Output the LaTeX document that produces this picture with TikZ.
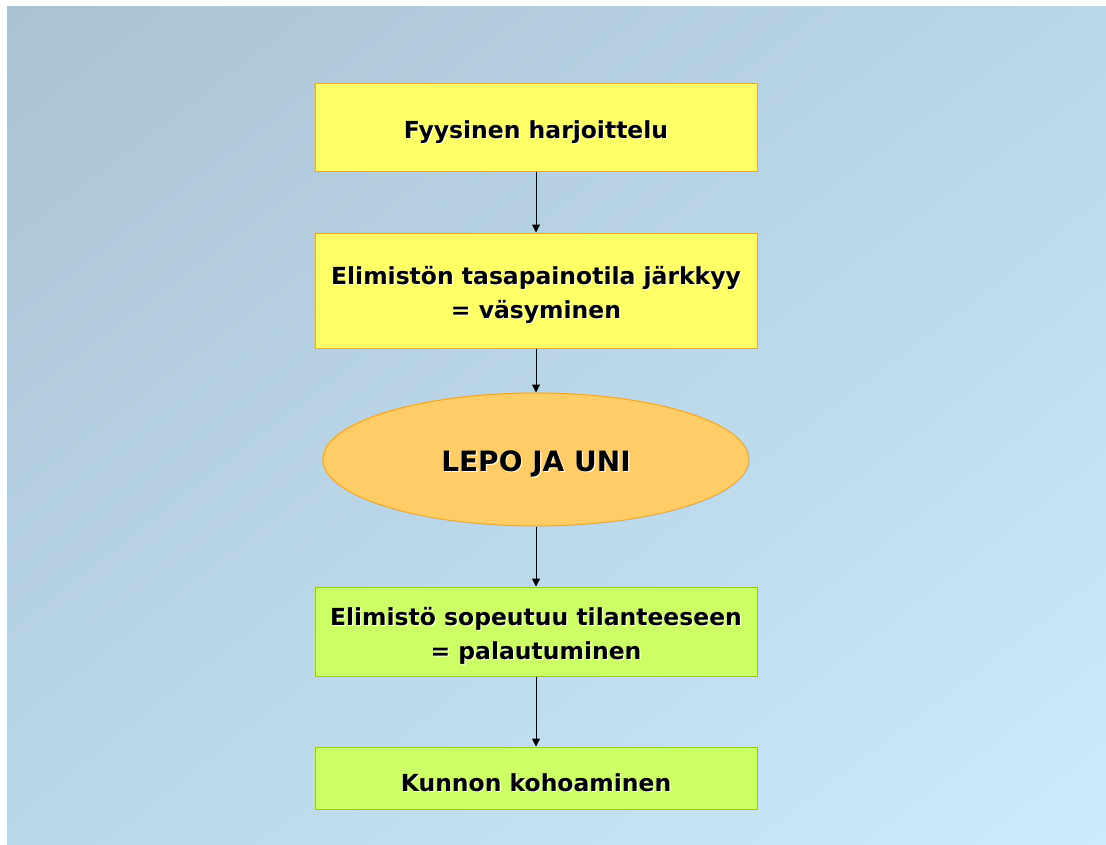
\documentclass[tikz,border=0pt]{standalone}
\usepackage{fontspec}
\setmainfont{DejaVu Sans}
\usetikzlibrary{shapes.geometric,arrows.meta,shadings}
\definecolor{bgA}{HTML}{A8C3D3}
\definecolor{bgM}{HTML}{BAD7EA}
\definecolor{bgB}{HTML}{CDEAFE}
\definecolor{yel}{HTML}{FFFF66}
\definecolor{org}{HTML}{FFCC66}
\definecolor{grn}{HTML}{CCFF66}
\definecolor{oline}{HTML}{F5A623}
\definecolor{gline}{HTML}{99CC00}
\newcommand{\shtxt}[1]{\leavevmode\raisebox{-3.75pt}[\height][\depth]{\rlap{\hspace{0.9pt}\raisebox{-0.9pt}{\color{white}#1}}#1}}
\tikzset{
  x=0.75pt, y=-0.75pt,
  txt/.style={font=\fontsize{17.6}{25.5}\selectfont\bfseries, align=center, text=black, inner sep=0pt},
  ybox/.style={txt, draw=oline, fill=yel, line width=0.75pt, minimum width=442*0.75pt},
  gbox/.style={txt, draw=gline, fill=grn, line width=0.75pt, minimum width=442*0.75pt},
  oval/.style={txt, font=\fontsize{21}{25}\selectfont\bfseries, ellipse, draw=oline, fill=org, line width=0.75pt, minimum width=426*0.75pt, minimum height=133*0.75pt, inner sep=0pt},
  conn/.style={draw=black, line width=0.75pt, -{Triangle[length=6pt,width=6pt]}}
}
\begin{document}
\begin{tikzpicture}
\useasboundingbox (0,0) rectangle (1106,845);
\fill[white] (0,0) rectangle (1106,845);
\shade[upper left=bgA, upper right=bgM, lower left=bgM, lower right=bgB] (7,7) rectangle (1106,845);
\node[ybox, minimum height=88*0.75pt] (b1) at (536,128) {\shtxt{Fyysinen harjoittelu}};
\node[ybox, minimum height=115*0.75pt] (b2) at (536,290.5) {\shtxt{Elimistön tasapainotila järkkyy}\\\shtxt{= väsyminen}};
\node[oval] (e) at (536,459.5) {\shtxt{LEPO JA UNI}};
\node[gbox, minimum height=89*0.75pt] (b3) at (536,631.5) {\shtxt{Elimistö sopeutuu tilanteeseen}\\\shtxt{= palautuminen}};
\node[gbox, minimum height=62*0.75pt] (b4) at (536,778) {\shtxt{Kunnon kohoaminen}};
\draw[conn] (b1) -- (b2);
\draw[conn] (b2) -- (e);
\draw[conn] (e) -- (b3);
\draw[conn] (b3) -- (b4);
\end{tikzpicture}
\end{document}
